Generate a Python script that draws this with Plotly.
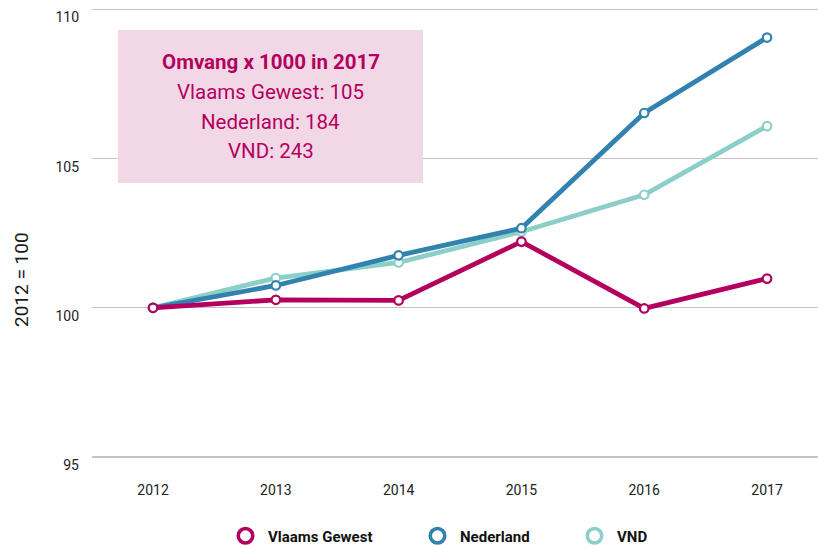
import plotly.graph_objects as go

years = [2012, 2013, 2014, 2015, 2016, 2017]
vlaams = [100.0, 100.27, 100.25, 102.22, 99.98, 100.98]
nederland = [100.0, 100.75, 101.76, 102.67, 106.53, 109.06]
vnd = [100.0, 101.0, 101.52, 102.55, 103.79, 106.09]

series_names = ["Vlaams Gewest", "Nederland", "VND"]
series_colors = ["#b3005f", "#3282b0", "#8ccfc8"]
series_values = [vlaams, nederland, vnd]

y_ticks = [95, 100, 105, 110]
box_lines = ["Omvang x 1000 in 2017", "Vlaams Gewest: 105", "Nederland: 184", "VND: 243"]

FONT = "Roboto"
TEXT_MAGENTA = "#b3005f"

W, H = 818, 545
# plot area in pixel coordinates
L, R_PX, T, B = 92, 818, 8, 460
pw = R_PX - L
ph = B - T


def px_x(x):
    return (x - L) / pw


def px_y(y):
    return (B - y) / ph


fig = go.Figure()

for idx in [2, 1, 0]:
    fig.add_trace(go.Scatter(
        x=years, y=series_values[idx], mode="lines+markers",
        name=series_names[idx], showlegend=False,
        line=dict(color=series_colors[idx], width=4.8),
        marker=dict(symbol="circle", size=8.5, color="white",
                    line=dict(color=series_colors[idx], width=2.2)),
        hoverinfo="skip",
    ))

legend_keys = ["legend", "legend2", "legend3"]
for i, name in enumerate(series_names):
    fig.add_trace(go.Scatter(
        x=[None], y=[None], mode="markers", name=name,
        legend=legend_keys[i], showlegend=True,
        marker=dict(symbol="circle", size=14.5, color="white",
                    line=dict(color=series_colors[i], width=3.6)),
    ))

legend_common = dict(orientation="h", yanchor="middle", xanchor="left",
                     itemwidth=35,
                     font=dict(family=FONT, size=15, color="#111111", weight="bold"),
                     bgcolor="rgba(0,0,0,0)", itemclick=False, itemdoubleclick=False)
legend_x_px = [223, 415, 572]
legend_y_px = 536

fig.update_layout(
    width=W, height=H,
    margin=dict(l=L, r=W - R_PX, t=T, b=H - B, pad=0, autoexpand=False),
    plot_bgcolor="white", paper_bgcolor="white",
    font=dict(family=FONT, color="#222222"),
    legend=dict(x=px_x(legend_x_px[0]), y=px_y(legend_y_px), **legend_common),
    legend2=dict(x=px_x(legend_x_px[1]), y=px_y(legend_y_px), **legend_common),
    legend3=dict(x=px_x(legend_x_px[2]), y=px_y(legend_y_px), **legend_common),
    xaxis=dict(
        range=[2011.503, 2017.415], tickvals=years, ticktext=[str(y) for y in years],
        showgrid=False, zeroline=False, showline=False, ticks="",
        tickfont=dict(family=FONT, size=14, color="#222222"),
        ticklabelstandoff=20, fixedrange=True,
    ),
    yaxis=dict(
        range=[94.9, 110.05], tickvals=y_ticks, ticktext=[str(v) for v in y_ticks],
        showgrid=True, gridcolor="#c4c4c4", gridwidth=1.3,
        zeroline=False, showline=False, ticks="",
        tickfont=dict(family=FONT, size=14, color="#222222"),
        ticklabelstandoff=12, ticklabelshift=8, fixedrange=True,
    ),
    shapes=[dict(
        type="rect", xref="paper", yref="paper",
        x0=px_x(118), x1=px_x(423), y0=px_y(183), y1=px_y(30),
        fillcolor="#f2d8e6", line=dict(width=0), layer="above",
    )],
)

fig.add_annotation(
    text="2012 = 100", xref="paper", yref="paper",
    x=px_x(21), y=px_y(280), xanchor="center", yanchor="middle",
    textangle=-90, showarrow=False,
    font=dict(family=FONT, size=19, color="#1a1a1a"),
)

line_y_px = [62, 92, 122, 151]
for i, txt in enumerate(box_lines):
    fig.add_annotation(
        text=txt, xref="paper", yref="paper",
        x=px_x(270.5), y=px_y(line_y_px[i]), xanchor="center", yanchor="middle",
        showarrow=False,
        font=dict(family=FONT, size=20.5, color=TEXT_MAGENTA,
                  weight="bold" if i == 0 else "normal"),
    )

fig.write_html(
    "out.html",
    config={"displayModeBar": False, "staticPlot": True},
    post_script=(
        "document.documentElement.style.margin='0';"
        "document.documentElement.style.overflow='hidden';"
        "document.body.style.margin='0';"
        "document.body.style.overflow='hidden';"
    ),
)
